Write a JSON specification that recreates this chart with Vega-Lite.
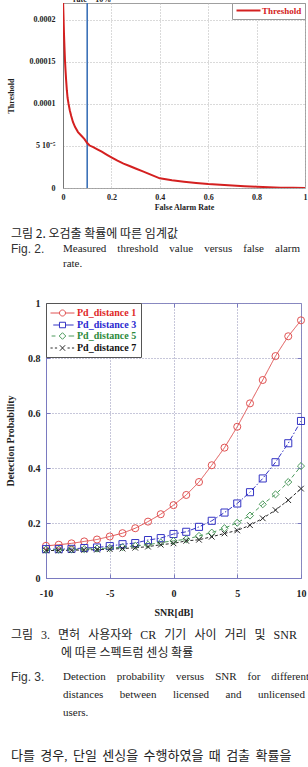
{
  "$schema": "https://vega.github.io/schema/vega-lite/v6.json",
  "background": "white",
  "padding": {"left": 0, "top": -5, "right": 0, "bottom": 0},
  "spacing": 0,
  "resolve": {
    "scale": {"color": "independent", "shape": "independent", "strokeDash": "independent"},
    "legend": {"color": "independent", "shape": "independent", "strokeDash": "independent"}
  },
  "config": {
    "view": {"stroke": null},
    "text": {"color": "#222"},
    "axis": {
      "labelFont": "Liberation Serif", "labelFontWeight": "bold", "labelColor": "#222",
      "titleFont": "Liberation Serif", "titleFontWeight": "bold", "titleColor": "#222",
      "labelFlush": false, "labelOverlap": false, "gridDash": [1, 2], "gridOpacity": 1
    }
  },
  "datasets": {
    "threshold": [
      {"far": 0.0, "thr": 0.000225}, {"far": 0.002, "thr": 0.000205}, {"far": 0.004, "thr": 0.000184},
      {"far": 0.006, "thr": 0.000168}, {"far": 0.008, "thr": 0.000153}, {"far": 0.010, "thr": 0.000142},
      {"far": 0.013, "thr": 0.000128}, {"far": 0.016, "thr": 0.000116}, {"far": 0.019, "thr": 0.000107},
      {"far": 0.023, "thr": 0.000100}, {"far": 0.028, "thr": 0.0000925}, {"far": 0.034, "thr": 0.0000855},
      {"far": 0.041, "thr": 0.0000785}, {"far": 0.05, "thr": 0.0000725}, {"far": 0.062, "thr": 0.0000665},
      {"far": 0.075, "thr": 0.0000625}, {"far": 0.088, "thr": 0.0000585}, {"far": 0.1, "thr": 0.0000535},
      {"far": 0.11, "thr": 0.0000505}, {"far": 0.125, "thr": 0.0000485}, {"far": 0.14, "thr": 0.0000462},
      {"far": 0.16, "thr": 0.0000432}, {"far": 0.18, "thr": 0.0000398}, {"far": 0.2, "thr": 0.0000365},
      {"far": 0.225, "thr": 0.0000325}, {"far": 0.25, "thr": 0.0000290}, {"far": 0.275, "thr": 0.0000262},
      {"far": 0.3, "thr": 0.0000232}, {"far": 0.33, "thr": 0.0000198}, {"far": 0.36, "thr": 0.0000162},
      {"far": 0.4, "thr": 0.0000115}, {"far": 0.45, "thr": 0.0000092}, {"far": 0.5, "thr": 0.0000075},
      {"far": 0.55, "thr": 0.0000060}, {"far": 0.6, "thr": 0.0000047}, {"far": 0.65, "thr": 0.0000038},
      {"far": 0.7, "thr": 0.0000030}, {"far": 0.75, "thr": 0.0000022}, {"far": 0.8, "thr": 0.0000015},
      {"far": 0.85, "thr": 0.0000009}, {"far": 0.9, "thr": 0.0000004}, {"far": 0.95, "thr": 0.00000015},
      {"far": 1.0, "thr": 0.0}
    ],
    "pd": [
      {"s": "Pd_distance 1", "snr": -10, "pd": 0.117}, {"s": "Pd_distance 1", "snr": -9, "pd": 0.121},
      {"s": "Pd_distance 1", "snr": -8, "pd": 0.126}, {"s": "Pd_distance 1", "snr": -7, "pd": 0.133},
      {"s": "Pd_distance 1", "snr": -6, "pd": 0.140}, {"s": "Pd_distance 1", "snr": -5, "pd": 0.151},
      {"s": "Pd_distance 1", "snr": -4, "pd": 0.163}, {"s": "Pd_distance 1", "snr": -3, "pd": 0.181},
      {"s": "Pd_distance 1", "snr": -2, "pd": 0.205}, {"s": "Pd_distance 1", "snr": -1, "pd": 0.232},
      {"s": "Pd_distance 1", "snr": 0, "pd": 0.265}, {"s": "Pd_distance 1", "snr": 1, "pd": 0.302},
      {"s": "Pd_distance 1", "snr": 2, "pd": 0.349}, {"s": "Pd_distance 1", "snr": 3, "pd": 0.410},
      {"s": "Pd_distance 1", "snr": 4, "pd": 0.474}, {"s": "Pd_distance 1", "snr": 5, "pd": 0.550},
      {"s": "Pd_distance 1", "snr": 6, "pd": 0.635}, {"s": "Pd_distance 1", "snr": 7, "pd": 0.720},
      {"s": "Pd_distance 1", "snr": 8, "pd": 0.807}, {"s": "Pd_distance 1", "snr": 9, "pd": 0.879},
      {"s": "Pd_distance 1", "snr": 10, "pd": 0.937},
      {"s": "Pd_distance 3", "snr": -10, "pd": 0.105}, {"s": "Pd_distance 3", "snr": -9, "pd": 0.105},
      {"s": "Pd_distance 3", "snr": -8, "pd": 0.106}, {"s": "Pd_distance 3", "snr": -7, "pd": 0.109},
      {"s": "Pd_distance 3", "snr": -6, "pd": 0.111}, {"s": "Pd_distance 3", "snr": -5, "pd": 0.116},
      {"s": "Pd_distance 3", "snr": -4, "pd": 0.123}, {"s": "Pd_distance 3", "snr": -3, "pd": 0.127},
      {"s": "Pd_distance 3", "snr": -2, "pd": 0.138}, {"s": "Pd_distance 3", "snr": -1, "pd": 0.145},
      {"s": "Pd_distance 3", "snr": 0, "pd": 0.160}, {"s": "Pd_distance 3", "snr": 1, "pd": 0.168},
      {"s": "Pd_distance 3", "snr": 2, "pd": 0.186}, {"s": "Pd_distance 3", "snr": 3, "pd": 0.208},
      {"s": "Pd_distance 3", "snr": 4, "pd": 0.238}, {"s": "Pd_distance 3", "snr": 5, "pd": 0.271},
      {"s": "Pd_distance 3", "snr": 6, "pd": 0.312}, {"s": "Pd_distance 3", "snr": 7, "pd": 0.362},
      {"s": "Pd_distance 3", "snr": 8, "pd": 0.421}, {"s": "Pd_distance 3", "snr": 9, "pd": 0.490},
      {"s": "Pd_distance 3", "snr": 10, "pd": 0.571},
      {"s": "Pd_distance 5", "snr": -10, "pd": 0.103}, {"s": "Pd_distance 5", "snr": -9, "pd": 0.103},
      {"s": "Pd_distance 5", "snr": -8, "pd": 0.104}, {"s": "Pd_distance 5", "snr": -7, "pd": 0.105},
      {"s": "Pd_distance 5", "snr": -6, "pd": 0.107}, {"s": "Pd_distance 5", "snr": -5, "pd": 0.109},
      {"s": "Pd_distance 5", "snr": -4, "pd": 0.112}, {"s": "Pd_distance 5", "snr": -3, "pd": 0.117},
      {"s": "Pd_distance 5", "snr": -2, "pd": 0.121}, {"s": "Pd_distance 5", "snr": -1, "pd": 0.129},
      {"s": "Pd_distance 5", "snr": 0, "pd": 0.135}, {"s": "Pd_distance 5", "snr": 1, "pd": 0.141},
      {"s": "Pd_distance 5", "snr": 2, "pd": 0.153}, {"s": "Pd_distance 5", "snr": 3, "pd": 0.165},
      {"s": "Pd_distance 5", "snr": 4, "pd": 0.181}, {"s": "Pd_distance 5", "snr": 5, "pd": 0.201},
      {"s": "Pd_distance 5", "snr": 6, "pd": 0.227}, {"s": "Pd_distance 5", "snr": 7, "pd": 0.268},
      {"s": "Pd_distance 5", "snr": 8, "pd": 0.304}, {"s": "Pd_distance 5", "snr": 9, "pd": 0.349},
      {"s": "Pd_distance 5", "snr": 10, "pd": 0.407},
      {"s": "Pd_distance 7", "snr": -10, "pd": 0.100}, {"s": "Pd_distance 7", "snr": -9, "pd": 0.100},
      {"s": "Pd_distance 7", "snr": -8, "pd": 0.101}, {"s": "Pd_distance 7", "snr": -7, "pd": 0.102},
      {"s": "Pd_distance 7", "snr": -6, "pd": 0.103}, {"s": "Pd_distance 7", "snr": -5, "pd": 0.105},
      {"s": "Pd_distance 7", "snr": -4, "pd": 0.107}, {"s": "Pd_distance 7", "snr": -3, "pd": 0.110},
      {"s": "Pd_distance 7", "snr": -2, "pd": 0.114}, {"s": "Pd_distance 7", "snr": -1, "pd": 0.121},
      {"s": "Pd_distance 7", "snr": 0, "pd": 0.126}, {"s": "Pd_distance 7", "snr": 1, "pd": 0.135},
      {"s": "Pd_distance 7", "snr": 2, "pd": 0.139}, {"s": "Pd_distance 7", "snr": 3, "pd": 0.150},
      {"s": "Pd_distance 7", "snr": 4, "pd": 0.162}, {"s": "Pd_distance 7", "snr": 5, "pd": 0.173},
      {"s": "Pd_distance 7", "snr": 6, "pd": 0.192}, {"s": "Pd_distance 7", "snr": 7, "pd": 0.217},
      {"s": "Pd_distance 7", "snr": 8, "pd": 0.247}, {"s": "Pd_distance 7", "snr": 9, "pd": 0.283},
      {"s": "Pd_distance 7", "snr": 10, "pd": 0.325}
    ],
    "capA": [
      {"n": 1, "ko": "그림 2. 오검출 확률에 따른 임계값", "tag": "", "en": ""},
      {"n": 2, "ko": "", "tag": "Fig. 2.", "en": "Measured\u2002\u2002threshold\u2002\u2002value\u2002\u2002versus\u2002\u2002false\u2002\u2002alarm"},
      {"n": 3, "ko": "", "tag": "", "en": "rate."}
    ],
    "capBko": [
      {"n": 1, "a": "그림\u2002\u20063.\u2002\u2006면허\u2002\u2006사용자와\u2002\u2006CR\u2002\u2006기기\u2002\u2006사이\u2002\u2006거리\u2002\u2006및\u2002\u2006SNR", "b": ""},
      {"n": 2, "a": "", "b": "에 따른 스펙트럼 센싱 확률"}
    ],
    "capBen": [
      {"n": 1, "tag": "Fig. 3.", "en": "Detection\u2002\u2002probability\u2002\u2002versus\u2002\u2002SNR\u2002\u2002for\u2002\u2002different"},
      {"n": 2, "tag": "", "en": "distances\u2002\u2002\u2002between\u2002\u2002\u2002licensed\u2002\u2002\u2002and\u2002\u2002\u2002unlicensed"},
      {"n": 3, "tag": "", "en": "users."}
    ],
    "body": [
      {"n": 1, "t": "다를 \u2006경우, \u2006단일 \u2006센싱을 \u2006수행하였을 \u2006때 \u2006검출 \u2006확률을"},
      {"n": 2, "t": "나타낸 것이다. Distance 뒤에 숫자가 클수록 면허 사"}
    ]
  },
  "vconcat": [
    {
      "hconcat": [
        {"width": 60, "height": 185, "data": {"values": [{}]}, "mark": {"type": "point", "opacity": 0}, "encoding": {}},
        {
          "width": 242, "height": 185,
          "view": {"stroke": "#a0a0a0"},
          "layer": [
            {
              "data": {"values": [{"far": 0.1, "note": "rate = 10%"}]},
              "mark": {"type": "rule", "color": "#3d72b8", "strokeWidth": 1.6},
              "encoding": {"x": {"field": "far", "type": "quantitative"}}
            },
            {
              "data": {"name": "threshold"},
              "mark": {"type": "line", "strokeWidth": 2, "clip": true},
              "encoding": {
                "x": {
                  "field": "far", "type": "quantitative", "title": "False Alarm Rate",
                  "scale": {"domain": [0, 1], "nice": false},
                  "axis": {"values": [0, 0.2, 0.4, 0.6, 0.8, 1], "format": "~g", "grid": true, "gridColor": "#b5b5b5",
                           "ticks": false, "domain": false, "labelFontSize": 8, "labelPadding": 5,
                           "titleFontSize": 8, "titlePadding": 2}
                },
                "y": {
                  "field": "thr", "type": "quantitative", "title": "Threshold",
                  "scale": {"domain": [0, 0.00022], "nice": false},
                  "axis": {"values": [0, 0.00005, 0.0001, 0.00015, 0.0002],
                           "labelExpr": "datum.value == 0.00005 ? '5 10⁻⁵' : '' + datum.value",
                           "grid": true, "gridColor": "#b5b5b5", "ticks": false, "domain": true, "domainColor": "#777",
                           "labelFontSize": 8, "labelPadding": 8, "titleFontSize": 8, "titlePadding": 14}
                },
                "color": {
                  "datum": "Threshold", "type": "nominal",
                  "scale": {"range": ["#d42020"]},
                  "legend": {"orient": "top-right", "offset": 0, "title": null, "padding": 3,
                             "strokeColor": "#999", "fillColor": "#ffffff",
                             "symbolType": "M-1,0L7,0", "symbolSize": 36, "symbolStrokeWidth": 2,
                             "labelFont": "Liberation Serif", "labelFontWeight": "bold", "labelFontSize": 9,
                             "labelColor": "#d42020", "labelOffset": 18}
                }
              }
            },
            {
              "data": {"values": [{"far": 0.1, "note": "rate = 10%"}]},
              "mark": {"type": "text", "baseline": "bottom", "dy": 1, "dx": 5, "font": "Liberation Serif", "fontWeight": "bold", "fontSize": 8},
              "encoding": {
                "x": {"field": "far", "type": "quantitative"},
                "y": {"datum": 0.00022, "type": "quantitative"},
                "text": {"field": "note"}
              }
            }
          ]
        }
      ],
      "spacing": 0, "bounds": "flush",
      "resolve": {"scale": {"color": "independent"}, "legend": {"color": "independent"}}
    },
    {"width": 1, "height": 13.5, "data": {"values": [{}]}, "mark": {"type": "point", "opacity": 0}, "encoding": {}},
    {
      "width": 308, "height": 45,
      "data": {"name": "capA"},
      "encoding": {"y": {"field": "n", "type": "ordinal", "axis": null}},
      "layer": [
        {"mark": {"type": "text", "align": "left", "x": 8, "font": "Noto Sans CJK KR", "fontSize": 12, "color": "#222"}, "encoding": {"text": {"field": "ko"}}},
        {"mark": {"type": "text", "align": "left", "x": 8, "font": "Liberation Sans", "fontSize": 12, "color": "#333"}, "encoding": {"text": {"field": "tag"}}},
        {"mark": {"type": "text", "align": "left", "x": 60, "font": "Liberation Serif", "fontSize": 11, "color": "#222"}, "encoding": {"text": {"field": "en"}}}
      ]
    },
    {"width": 1, "height": 26, "data": {"values": [{}]}, "mark": {"type": "point", "opacity": 0}, "encoding": {}},
    {
      "hconcat": [
        {"width": 43, "height": 275, "data": {"values": [{}]}, "mark": {"type": "point", "opacity": 0}, "encoding": {}},
        {
          "width": 255, "height": 275,
          "view": {"stroke": "#8585c5"},
          "data": {"name": "pd"},
          "layer": [
            {
              "mark": {"type": "line", "strokeWidth": 1},
              "encoding": {
                "x": {
                  "field": "snr", "type": "quantitative", "title": "SNR[dB]",
                  "scale": {"domain": [-10, 10], "nice": false},
                  "axis": {"values": [-10, -5, 0, 5, 10], "labelExpr": "'' + datum.value", "grid": true, "gridColor": "#8f8fb5",
                           "tickSize": -4, "tickColor": "#7a7ac0", "domainColor": "#7a7ac0",
                           "labelFontSize": 10, "labelPadding": 14.5, "titleFontSize": 10, "titlePadding": 9}
                },
                "y": {
                  "field": "pd", "type": "quantitative", "title": "Detection Probability",
                  "scale": {"domain": [0, 1], "nice": false},
                  "axis": {"values": [0, 0.2, 0.4, 0.6, 0.8, 1], "format": "~g", "grid": true, "gridColor": "#8f8fb5",
                           "tickSize": -4, "tickColor": "#7a7ac0", "domainColor": "#7a7ac0",
                           "labelFontSize": 10, "labelPadding": 10, "titleFontSize": 10, "titlePadding": 12}
                },
                "color": {
                  "field": "s", "type": "nominal",
                  "scale": {"domain": ["Pd_distance 1", "Pd_distance 3", "Pd_distance 5", "Pd_distance 7"],
                            "range": ["#e05252", "#3434c4", "#4c9a5c", "#2a2a2a"]},
                  "legend": null
                },
                "strokeDash": {
                  "field": "s", "type": "nominal",
                  "scale": {"domain": ["Pd_distance 1", "Pd_distance 3", "Pd_distance 5", "Pd_distance 7"],
                            "range": [[1, 0], [5, 2, 1.5, 2], [4, 3], [3, 2]]},
                  "legend": null
                }
              }
            },
            {
              "mark": {"type": "point", "filled": false, "size": 50, "strokeWidth": 1, "opacity": 1},
              "encoding": {
                "x": {"field": "snr", "type": "quantitative", "axis": null},
                "y": {"field": "pd", "type": "quantitative", "axis": null},
                "color": {"field": "s", "type": "nominal", "legend": null},
                "shape": {
                  "field": "s", "type": "nominal",
                  "scale": {"domain": ["Pd_distance 1", "Pd_distance 3", "Pd_distance 5", "Pd_distance 7"],
                            "range": ["circle", "square", "diamond", "M-0.8,-0.8L0.8,0.8M-0.8,0.8L0.8,-0.8"]},
                  "legend": null
                }
              }
            },
            {
              "mark": {"type": "point", "filled": false, "opacity": 0},
              "encoding": {
                "x": {"field": "snr", "type": "quantitative", "axis": null},
                "y": {"field": "pd", "type": "quantitative", "axis": null},
                "shape": {
                  "field": "s", "type": "nominal",
                  "scale": {"domain": ["Pd_distance 1", "Pd_distance 3", "Pd_distance 5", "Pd_distance 7"],
                            "range": [
                              "M-1,0L0.63,0M1.73,0L3.36,0M0.63,0A0.55,0.55 0 1,1 1.73,0A0.55,0.55 0 1,1 0.63,0",
                              "M-0.5,0L0.63,0M0.63,-0.5L1.73,-0.5L1.73,0.5L0.63,0.5ZM1.73,0L3.2,0",
                              "M-0.8,0L-0.1,0M0.58,0L1.18,-0.6L1.78,0L1.18,0.6ZM2.3,0L3.3,0",
                              "M-1,0L-0.6,0M-0.2,0L0.2,0M0.7,-0.5L1.66,0.5M0.7,0.5L1.66,-0.5M2.1,0L2.5,0M2.9,0L3.3,0"
                            ]},
                  "legend": {
                    "orient": "top-left", "offset": 0, "title": null, "padding": 4,
                    "strokeColor": "#555", "fillColor": "#ffffff",
                    "symbolSize": 121, "symbolStrokeWidth": 1, "symbolOpacity": 1,
                    "symbolFillColor": "transparent",
                    "symbolStrokeColor": {"expr": "datum.value === 'Pd_distance 1' ? '#e05252' : datum.value === 'Pd_distance 3' ? '#3434c4' : datum.value === 'Pd_distance 5' ? '#4c9a5c' : '#2a2a2a'"},
                    "labelColor": {"expr": "datum.value === 'Pd_distance 1' ? '#e02828' : datum.value === 'Pd_distance 3' ? '#2a2ad0' : datum.value === 'Pd_distance 5' ? '#2c8a3c' : '#111111'"},
                    "labelFont": "Liberation Serif", "labelFontWeight": "bold", "labelFontSize": 10,
                    "labelOffset": 15, "rowPadding": 0, "labelLimit": 200
                  }
                }
              }
            },
            {
              "mark": {"type": "point", "opacity": 0},
              "encoding": {
                "x": {"field": "snr", "type": "quantitative",
                      "axis": {"orient": "top", "labels": false, "title": null, "grid": false, "domain": false,
                               "tickSize": -4, "tickColor": "#7a7ac0", "values": [-5, 0, 5]}},
                "y": {"field": "pd", "type": "quantitative",
                      "axis": {"orient": "right", "labels": false, "title": null, "grid": false, "domain": false,
                               "tickSize": -4, "tickColor": "#7a7ac0", "values": [0.2, 0.4, 0.6, 0.8]}}
              }
            }
          ],
          "resolve": {"scale": {"shape": "independent"}, "axis": {"x": "independent", "y": "independent"}}
        }
      ],
      "spacing": 0, "bounds": "flush",
      "resolve": {"scale": {"shape": "independent"}, "legend": {"shape": "independent"}}
    },
    {"width": 1, "height": 8, "data": {"values": [{}]}, "mark": {"type": "point", "opacity": 0}, "encoding": {}},
    {
      "width": 308, "height": 36,
      "data": {"name": "capBko"},
      "encoding": {"y": {"field": "n", "type": "ordinal", "axis": null}},
      "layer": [
        {"mark": {"type": "text", "align": "left", "x": 8, "font": "Liberation Serif, Noto Sans CJK KR", "fontSize": 12, "color": "#222"}, "encoding": {"text": {"field": "a"}}},
        {"mark": {"type": "text", "align": "left", "x": 58, "font": "Noto Sans CJK KR", "fontSize": 12, "color": "#222"}, "encoding": {"text": {"field": "b"}}}
      ]
    },
    {"width": 1, "height": 2, "data": {"values": [{}]}, "mark": {"type": "point", "opacity": 0}, "encoding": {}},
    {
      "width": 308, "height": 54,
      "data": {"name": "capBen"},
      "encoding": {"y": {"field": "n", "type": "ordinal", "axis": null}},
      "layer": [
        {"mark": {"type": "text", "align": "left", "x": 8, "font": "Liberation Sans", "fontSize": 12, "color": "#333"}, "encoding": {"text": {"field": "tag"}}},
        {"mark": {"type": "text", "align": "left", "x": 60, "font": "Liberation Serif", "fontSize": 11, "color": "#222"}, "encoding": {"text": {"field": "en"}}}
      ]
    },
    {"width": 1, "height": 23, "data": {"values": [{}]}, "mark": {"type": "point", "opacity": 0}, "encoding": {}},
    {
      "width": 308, "height": 44,
      "data": {"name": "body"},
      "mark": {"type": "text", "align": "left", "x": 8, "font": "Liberation Serif, Noto Sans CJK KR", "fontSize": 13, "color": "#222"},
      "encoding": {"y": {"field": "n", "type": "ordinal", "axis": null}, "text": {"field": "t"}}
    }
  ]
}
